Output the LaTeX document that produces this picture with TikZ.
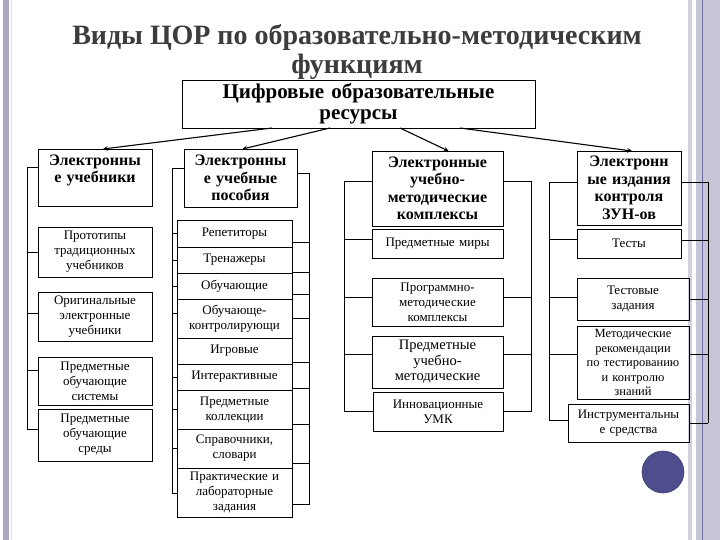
\documentclass[tikz,border=0pt]{standalone}
\usepackage{fontspec}
\setmainfont{Liberation Serif}
\usetikzlibrary{positioning,chains,arrows}
\definecolor{titlegray}{HTML}{3C3C3C}
\definecolor{bandgray}{HTML}{C6C6D6}
\definecolor{banddark}{HTML}{A9A9C1}
\definecolor{bandline}{HTML}{6C6CA2}
\definecolor{dotblue}{HTML}{4E4E8C}

\begin{document}
\begin{tikzpicture}[x=1pt, y=-1pt, >=stealth,
    every node/.style={outer sep=0pt},
    res/.style={draw, line width=0.8pt, inner xsep=2pt, inner ysep=1pt,
            align=center, anchor=north west},
    head/.style={res, font=\fontsize{16}{17.5}\selectfont\bfseries},
    leaf/.style={res, font=\fontsize{13}{15}\selectfont},
    link/.style={line width=0.8pt}]

        \useasboundingbox (0,0) rectangle (720,540);
        \fill[white] (0,0) rectangle (720,540);
        \fill[banddark] (3,0) rectangle (9,540);
        \draw[bandgray!60, line width=1pt] (11.5,0) -- (11.5,540);
        \fill[bandgray!80] (688,0) rectangle (692,540);
        \fill[bandgray] (696,0) rectangle (720,540);
        \draw[bandline, line width=1pt] (702,0) -- (702,540);

        \node[font=\fontsize{28}{29}\selectfont\bfseries, text=titlegray, align=center]
            (title) at (357,52) {Виды ЦОР по образовательно-методическим\\функциям};

        \node[res, font=\fontsize{21}{21}\selectfont\bfseries, text width=349pt,
            minimum height=48pt] (cor) at (182,80) {Цифровые образовательные\\ресурсы};

        % column 1
        \node[head, text width=110pt, minimum height=57pt] (uch) at (38,149) {Электронны\\е учебники\\~};
        \node[leaf, text width=110pt, minimum height=50pt] (proto) at (38,227) {Прототипы\\традиционных\\учебников};
        \node[leaf, text width=110pt, minimum height=49pt] (orig) at (38,292) {Оригинальные\\электронные\\учебники};
        \node[leaf, text width=110pt, minimum height=48pt] (psys) at (38,357) {Предметные\\обучающие\\системы};
        \node[leaf, text width=110pt, minimum height=52pt] (psred) at (38,409) {Предметные\\обучающие\\среды};

        % column 2
        \node[head, text width=109pt, minimum height=58pt] (pos) at (184,149) {Электронны\\е учебные\\пособия};
        \begin{scope}[start chain=stack going below, node distance=0pt]
          \node[leaf, on chain, text width=111pt, minimum height=27pt] (rep) at (177,220) {Репетиторы};
          \node[leaf, on chain, text width=111pt, minimum height=26pt] (tren) {Тренажеры};
          \node[leaf, on chain, text width=111pt, minimum height=26pt] (obuch) {Обучающие};
          \node[leaf, on chain, text width=111pt, minimum height=39pt] (obkon) {Обучающе-\\контролирующи};
          \node[leaf, on chain, text width=111pt, minimum height=26pt] (igr) {Игровые};
          \node[leaf, on chain, text width=111pt, minimum height=26pt] (inter) {Интерактивные};
          \node[leaf, on chain, text width=111pt, minimum height=39pt] (koll) {Предметные\\коллекции};
          \node[leaf, on chain, text width=111pt, minimum height=39pt] (spr) {Справочники,\\словари};
          \node[leaf, on chain, text width=111pt, minimum height=49pt] (prakt) {Практические и\\лабораторные\\задания};
        \end{scope}

        % column 3
        \node[head, text width=127pt, minimum height=75pt] (umk) at (372,151) {Электронные\\учебно-\\методические\\комплексы};
        \node[leaf, text width=127pt, minimum height=29pt] (miry) at (372,229) {Предметные миры};
        \node[leaf, text width=127pt, minimum height=48pt] (progr) at (372,278) {Программно-\\методические\\комплексы};
        \node[leaf, font=\fontsize{14.5}{15.5}\selectfont, text width=127pt, minimum height=52pt]
            (pumk) at (372,336) {Предметные\\учебно-\\методические};
        \node[leaf, text width=126pt, minimum height=39pt] (innov) at (373,392) {Инновационные\\УМК};

        % column 4
        \node[head, text width=100pt, minimum height=74pt] (zun) at (577,151) {Электронн\\ые издания\\контроля\\ЗУН-ов};
        \node[leaf, text width=100pt, minimum height=29pt] (test) at (577,229) {Тесты};
        \node[leaf, text width=108pt, minimum height=42pt] (tzad) at (577,278) {Тестовые\\задания};
        \node[leaf, font=\fontsize{12.5}{14.5}\selectfont, text width=108pt, minimum height=73pt]
            (metod) at (577,326) {Методические\\рекомендации\\по тестированию\\и контролю\\знаний};
        \node[leaf, text width=117pt, minimum height=38pt] (instr) at (568,404) {Инструментальны\\е средства};

        \draw[->, link, line width=1.1pt] ([xshift=90pt]cor.south west) -- ([xshift=8pt]uch.north);
        \draw[->, link, line width=1.1pt] ([xshift=148pt]cor.south west) -- ([xshift=2pt]pos.north);
        \draw[->, link, line width=1.1pt] ([xshift=218pt]cor.south west) -- ([xshift=11pt]umk.north);
        \draw[->, link, line width=1.1pt] ([xshift=278pt]cor.south west) -- ([xshift=3pt]zun.north);

        % brackets
        \coordinate (b1) at (27,0);
        \coordinate (b2) at (172,0);
        \coordinate (b3) at (309,0);
        \coordinate (b4) at (344,0);
        \coordinate (b5) at (531,0);
        \coordinate (b6) at (549,0);
        \coordinate (b7) at (708,0);
        \foreach \n/\d in {uch/10, proto/0, orig/3, psys/11, psred/6} {
          \coordinate (t) at ([yshift=\d pt]\n.west);
          \draw[link] (t) -- (t -| b1) coordinate (a-\n);
        }
        \draw[link] (a-uch) -- (a-psred);
        \foreach \n/\d in {pos/10, rep/0, tren/0, obuch/0, obkon/5, inter/0, koll/0, spr/0, prakt/-1} {
          \coordinate (t) at ([yshift=\d pt]\n.west);
          \draw[link] (t) -- (t -| b2) coordinate (a-\n);
        }
        \draw[link] (a-pos) -- (a-prakt);
        \foreach \n/\d in {pos/5, rep/-9, tren/-12, obuch/-8, obkon/0, igr/-11, inter/-11, koll/-15, spr/-15, prakt/-12} {
          \coordinate (t) at ([yshift=\d pt]\n.east);
          \draw[link] (t) -- (t -| b3) coordinate (c-\n);
        }
        \draw[link] (c-pos) -- (c-prakt);
        \foreach \n/\d in {umk/7, miry/4, progr/5, pumk/8, innov/0} {
          \coordinate (t) at ([yshift=\d pt]\n.west);
          \draw[link] (t) -- (t -| b4) coordinate (a-\n);
        }
        \draw[link] (a-umk) -- (a-innov);
        \foreach \n/\d in {umk/7, progr/5, pumk/8, innov/0} {
          \coordinate (t) at ([yshift=\d pt]\n.east);
          \draw[link] (t) -- (t -| b5) coordinate (c-\n);
        }
        \draw[link] (c-umk) -- (c-innov);
        \foreach \n/\d in {zun/6, test/4, tzad/2, metod/8, instr/3} {
          \coordinate (t) at ([yshift=\d pt]\n.west);
          \draw[link] (t) -- (t -| b6) coordinate (a-\n);
        }
        \draw[link] (a-zun) -- (a-instr);
        \foreach \n/\d in {zun/6, test/3, tzad/0, metod/8, instr/0} {
          \coordinate (t) at ([yshift=\d pt]\n.east);
          \draw[link] (t) -- (t -| b7) coordinate (c-\n);
        }
        \draw[link] (c-zun) -- (c-instr);

        \fill[dotblue, draw=dotblue!80!black, line width=0.6pt] (663,472) circle (21pt);
\end{tikzpicture}
\end{document}
